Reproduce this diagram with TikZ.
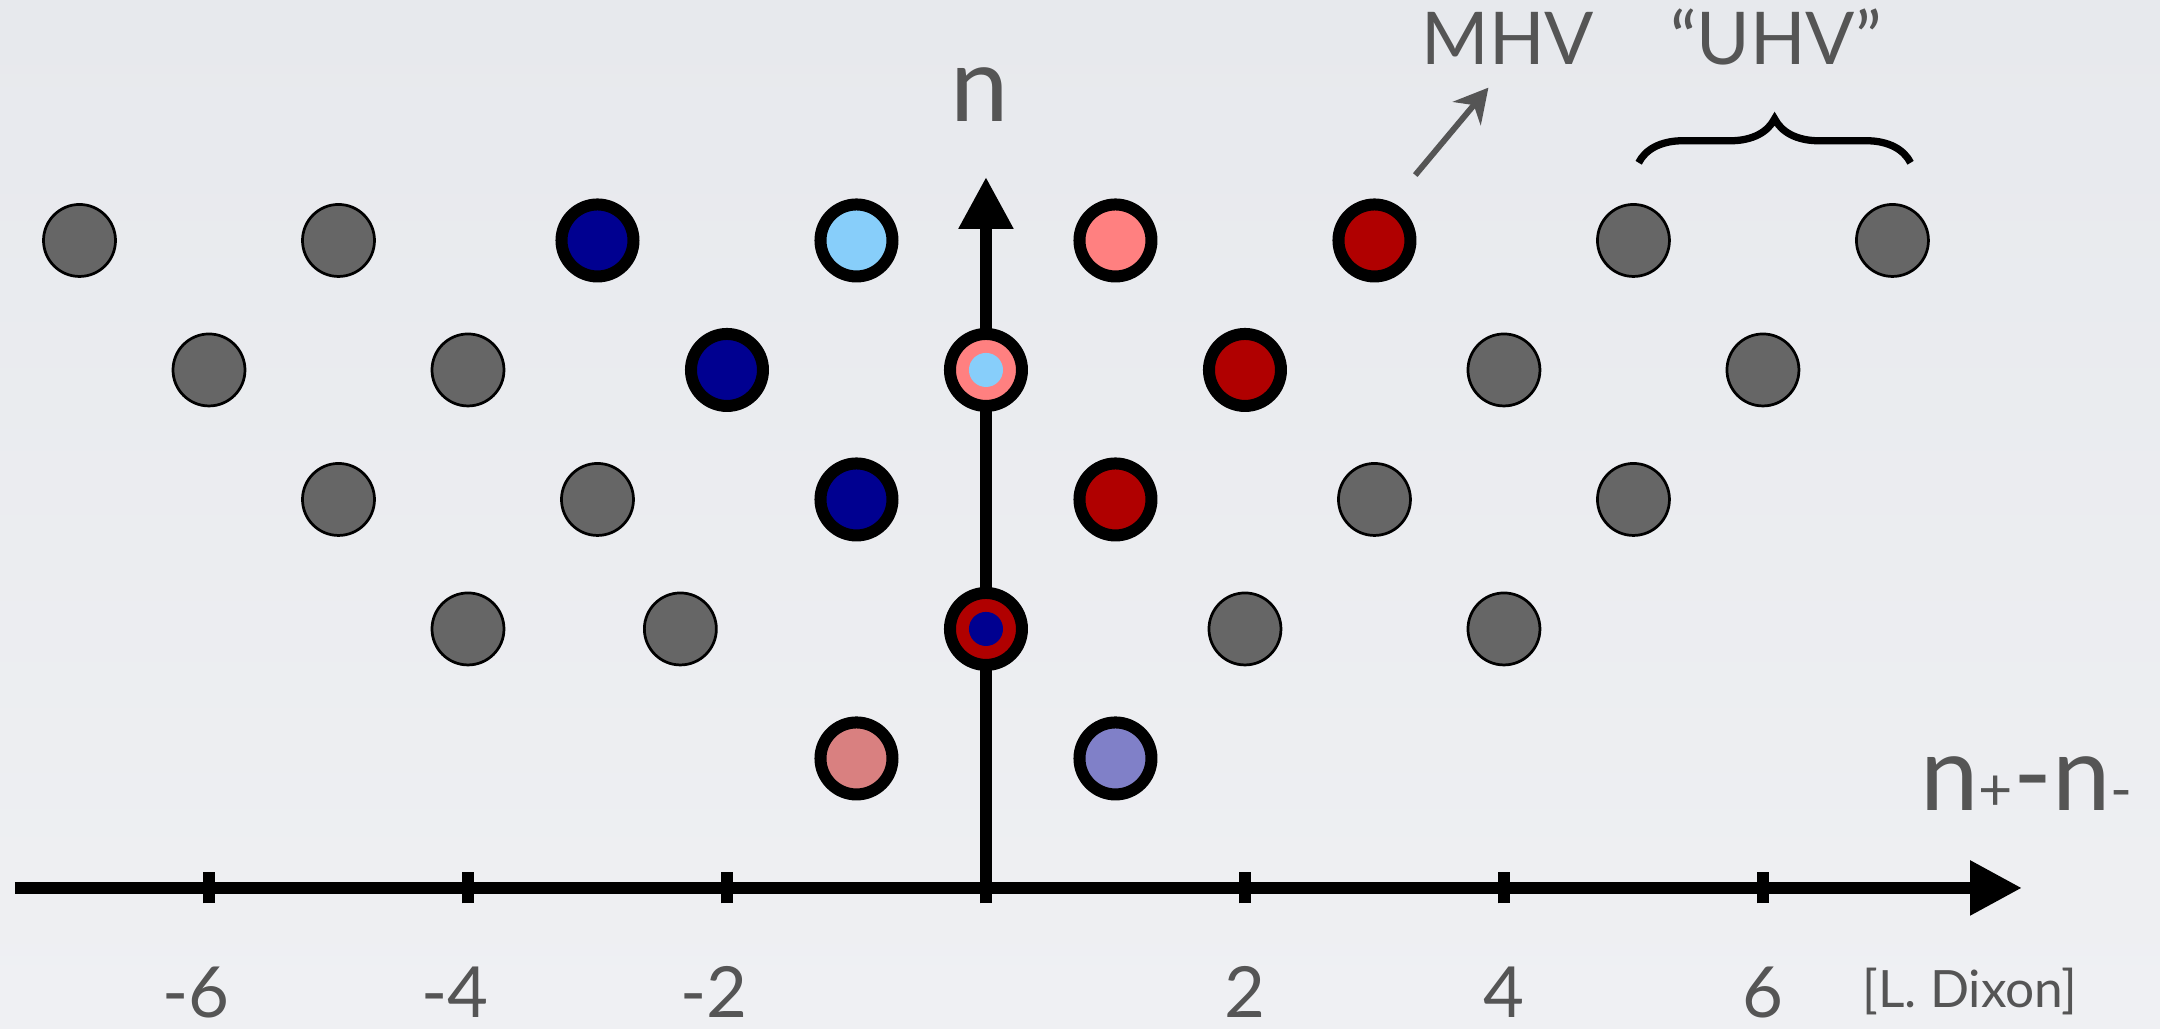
\documentclass[tikz,border=0pt]{standalone}
\usepackage{fontspec}
\setmainfont{Lato}
\usetikzlibrary{arrows.meta,positioning,decorations.pathreplacing}
\definecolor{bgtop}{HTML}{E7E9ED}
\definecolor{bgbot}{HTML}{EFF0F3}
\definecolor{txtgray}{HTML}{555555}
\definecolor{dotgray}{HTML}{666666}
\definecolor{navyb}{HTML}{000090}
\definecolor{skyb}{HTML}{87CEFA}
\definecolor{pinkr}{HTML}{FF8080}
\definecolor{darkr}{HTML}{B00000}
\definecolor{salmonr}{HTML}{D98080}
\definecolor{lavb}{HTML}{8080C8}
\newcommand\smallsgn[1]{{\fontsize{13}{13}\selectfont#1}}
\tikzset{
  gdot/.style ={circle,draw=black,line width=0.6pt,fill=dotgray,minimum size=5.56mm,inner sep=0pt},
  cdot/.style ={circle,draw=black,line width=2.64pt,fill=#1,minimum size=5.56mm,inner sep=0pt},
  core/.style ={circle,fill=#1,minimum size=2.63mm,inner sep=0pt},
  axis/.style ={line width=2.64pt,-{Triangle[length=4mm,width=4mm]}},
  tick/.style ={line width=2.64pt},
  ar/.style   ={draw=txtgray,line width=1.3pt,-{Stealth[length=2.6mm,width=2.8mm]}},
  brc/.style  ={decorate,decoration={brace,amplitude=3.4mm},line width=1.6pt},
  tag/.style  ={text=txtgray,inner sep=0pt,anchor=base},
  big/.style  ={tag,font=\fontsize{23}{24}\selectfont},
  mid/.style  ={tag,font=\fontsize{16}{18}\selectfont},
  num/.style  ={tag,font=\fontsize{15.5}{17}\selectfont},
  cite/.style ={tag,font=\fontsize{11.3}{13}\selectfont},
}

\begin{document}
\begin{tikzpicture}
  \path[use as bounding box,top color=bgtop,bottom color=bgbot] (-7.614,-1.089) rectangle (9.066,6.857);

  % axes
  \coordinate (o) at (0,0);
  \coordinate (xl) at (-7.5,0);
  \coordinate (xr) at (8,0);
  \coordinate (yt) at (0,5.49);
  \draw[axis] (xl) -- (xr);
  \draw[axis] (o) -- (yt);
  \foreach \x in {-6,-4,...,6}
    \draw[tick] (\x,-0.12) -- (\x,0.12);
  \foreach \x/\t in {-6/6,-4/4,-2/2}
    \node[num] (lm\t) at (\x,-1) {\llap{-}\t};
  \foreach \x in {2,4,6}
    \node[num] (lp\x) at (\x,-1) {\x};
  \node[big] (ylab) at (-0.05,5.915) {n};
  \node[big,anchor=base west] (xlab) at (7.21,0.60) {n\smallsgn{+}-n\smallsgn{-}};

  % gray states
  \foreach \x/\y [count=\i] in {-7/5,-5/5,5/5,7/5,-6/4,-4/4,4/4,6/4,
      -5/3,-3/3,3/3,5/3,-4/2,-2.36/2,2/2,4/2}
    \node[gdot] (g\i) at (\x,\y) {};

  % coloured states
  \node[cdot=navyb]   (b5) at (-3,5) {};
  \node[cdot=skyb]    (s5) at (-1,5) {};
  \node[cdot=pinkr]   (p5) at (1,5) {};
  \node[cdot=darkr]   (r5) at (3,5) {};
  \node[cdot=navyb]   (b4) at (-2,4) {};
  \node[cdot=pinkr]   (c4) at (0,4) {};
  \node[core=skyb]    (c4in) at (c4) {};
  \node[cdot=darkr]   (r4) at (2,4) {};
  \node[cdot=navyb]   (b3) at (-1,3) {};
  \node[cdot=darkr]   (r3) at (1,3) {};
  \node[cdot=darkr]   (c2) at (0,2) {};
  \node[core=navyb]   (c2in) at (c2) {};
  \node[cdot=salmonr] (p1) at (-1,1) {};
  \node[cdot=lavb]    (b1) at (1,1) {};

  % labels
  \node[mid] (mhv) at (4.03,6.355) {MHV};
  \node[mid] (uhv) at (6.10,6.355) {``UHV''};
  \coordinate (mhvs) at (3.315,5.505);
  \coordinate (mhvt) at (3.88,6.18);
  \draw[ar] (mhvs) -- (mhvt);
  \coordinate (ul) at (5.04,5.60);
  \coordinate (ur) at (7.14,5.60);
  \draw[brc] (ul) -- (ur);
  \node[cite] (src) at (7.60,-0.92) {[L. Dixon]};
\end{tikzpicture}
\end{document}
